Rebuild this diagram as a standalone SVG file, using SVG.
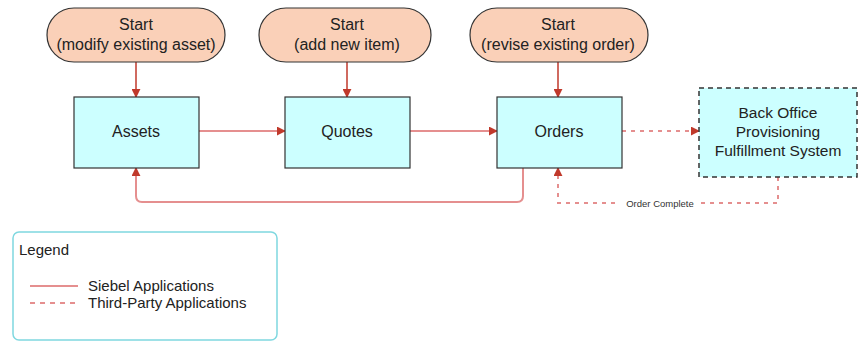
<svg xmlns="http://www.w3.org/2000/svg" width="861" height="343" viewBox="0 0 861 343">
<style>
  .start{fill:#fad0b8;stroke:#333;stroke-width:1.2}
  .node{fill:#ccffff;stroke:#333;stroke-width:1.2}
  .ext{fill:#ccffff;stroke:#333;stroke-width:1.5;stroke-dasharray:5 4}
  .t{font-family:"Liberation Sans",Arial,sans-serif;font-size:16px;fill:#222;text-anchor:middle}
  .t2{font-family:"Liberation Sans",Arial,sans-serif;font-size:15.5px;fill:#222;text-anchor:middle}
  .lt{font-family:"Liberation Sans",Arial,sans-serif;font-size:15px;fill:#222}
  .sol{fill:none;stroke:#e58f8f;stroke-width:2}
  .dsh{fill:none;stroke:#e58f8f;stroke-width:2;stroke-dasharray:4 5}
  .thin{fill:none;stroke:#c0392b;stroke-width:1.5}
</style>
<defs>
  <marker id="ah2" viewBox="0 0 10 10" refX="9" refY="5" markerWidth="9" markerHeight="9" orient="auto" markerUnits="userSpaceOnUse">
    <path d="M0,0 L10,5 L0,10 z" fill="#c0392b"/>
  </marker>
</defs>
<rect width="861" height="343" fill="#fff"/>
<g id="connectors">
  <path class="thin" d="M136,62 V97" marker-end="url(#ah2)"/>
  <path class="thin" d="M347,62 V97" marker-end="url(#ah2)"/>
  <path class="thin" d="M558,62 V97" marker-end="url(#ah2)"/>
  <path class="sol" d="M199,131 H285" marker-end="url(#ah2)"/>
  <path class="sol" d="M410,131 H497" marker-end="url(#ah2)"/>
  <path class="dsh" d="M622,131 H699" marker-end="url(#ah2)"/>
  <path class="sol" d="M523,168 V196 Q523,202 517,202 H142 Q136,202 136,196 V168" marker-end="url(#ah2)"/>
  <path class="dsh" d="M778,177 V203 H558 V168" marker-end="url(#ah2)"/>
  <rect x="619" y="197" width="82" height="12" fill="#fff"/>
  <text x="660" y="206.5" font-family="'Liberation Sans',Arial,sans-serif" font-size="9.5" fill="#333" text-anchor="middle">Order Complete</text>
</g>
<g id="start1">
  <rect class="start" x="47" y="8" width="178" height="54" rx="27"/>
  <text class="t" x="136" y="30">Start</text>
  <text class="t" x="136" y="50">(modify existing asset)</text>
</g>
<g id="start2">
  <rect class="start" x="259" y="8" width="172" height="54" rx="27"/>
  <text class="t" x="347" y="30">Start</text>
  <text class="t" x="347" y="50">(add new item)</text>
</g>
<g id="start3">
  <rect class="start" x="470" y="8" width="178" height="54" rx="27"/>
  <text class="t" x="558" y="30">Start</text>
  <text class="t" x="558" y="50">(revise existing order)</text>
</g>
<g id="assets">
  <rect class="node" x="74" y="97" width="125" height="71"/>
  <text class="t" x="136" y="137">Assets</text>
</g>
<g id="quotes">
  <rect class="node" x="285" y="97" width="125" height="71"/>
  <text class="t" x="347" y="137">Quotes</text>
</g>
<g id="orders">
  <rect class="node" x="497" y="97" width="125" height="71"/>
  <text class="t" x="559" y="137">Orders</text>
</g>
<g id="backoffice">
  <rect class="ext" x="699" y="88" width="158" height="89"/>
  <text class="t2" x="778" y="118">Back Office</text>
  <text class="t2" x="778" y="137">Provisioning</text>
  <text class="t2" x="778" y="156">Fulfillment System</text>
</g>
<g id="legend">
  <rect x="13" y="232" width="264" height="108" rx="6" fill="#fff" stroke="#7fd8e0" stroke-width="1.5"/>
  <text class="lt" x="19" y="255">Legend</text>
  <line x1="30" y1="286" x2="78" y2="286" stroke="#e58f8f" stroke-width="2"/>
  <line x1="30" y1="303" x2="78" y2="303" stroke="#e58f8f" stroke-width="2" stroke-dasharray="5 5"/>
  <text class="lt" x="88" y="291">Siebel Applications</text>
  <text class="lt" x="88" y="308">Third-Party Applications</text>
</g>
</svg>
